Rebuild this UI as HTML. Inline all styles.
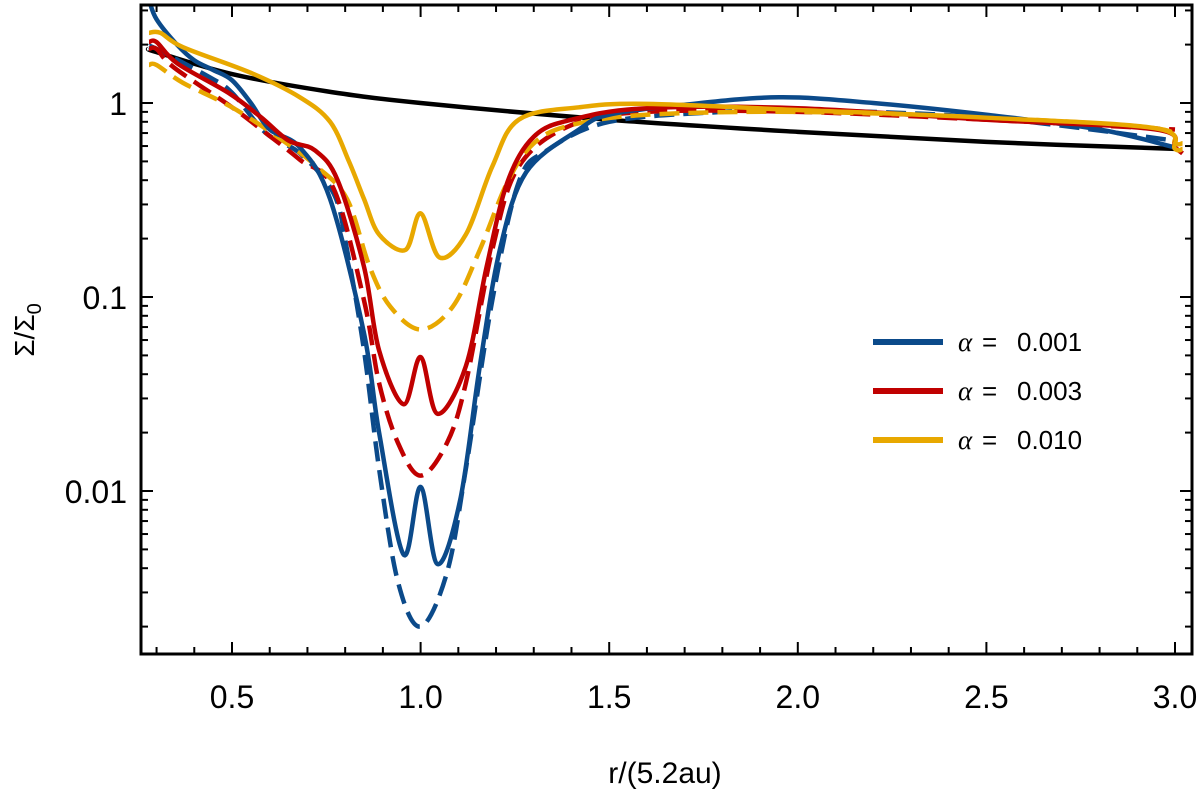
<!DOCTYPE html>
<html><head><meta charset="utf-8"><style>
body{margin:0;background:#fff;}
svg{display:block;font-family:"Liberation Sans",Arial,sans-serif;}
</style></head><body>
<svg id="chart" width="1200" height="794" viewBox="0 0 1200 794" xmlns="http://www.w3.org/2000/svg"></svg>
<script>
const xTicks=[0.5,1.0,1.5,2.0,2.5,3.0];
const xTickLabels=["0.5","1.0","1.5","2.0","2.5","3.0"];
const yTicks=[1,0.1,0.01];
const yTickLabels=["1","0.1","0.01"];
const blackR=[0.28,0.3,0.5,0.75,1,1.5,2,2.5,3];
const blackS=[1.9,1.83,1.41,1.15,1.0,0.82,0.71,0.63,0.58];
const blueR=[0.28,0.3,0.355,0.4,0.45,0.5,0.55,0.6,0.68,0.76,0.85,0.89,0.955,1.0,1.045,1.105,1.157,1.21,1.28,1.42,1.5,1.7,1.95,2.2,2.5,2.8,3.0];
const blueS=[3.4,2.7,1.99,1.66,1.48,1.31,1.0,0.73,0.59,0.32,0.065,0.02,0.0047,0.0105,0.0042,0.009,0.044,0.175,0.44,0.73,0.87,0.98,1.07,1.0,0.87,0.73,0.59];
const blueDR=[0.28,0.3,0.44,0.5,0.59,0.68,0.77,0.805,0.85,0.89,0.94,1.0,1.07,1.12,1.19,1.26,1.335,1.5,1.8,2.0,2.5,3.0];
const blueDS=[1.95,1.9,1.36,1.13,0.7,0.55,0.34,0.175,0.053,0.013,0.0034,0.002,0.0038,0.013,0.096,0.39,0.57,0.8,0.9,0.92,0.84,0.64];
const redR=[0.28,0.3,0.355,0.49,0.575,0.65,0.72,0.78,0.85,0.89,0.955,1.0,1.045,1.12,1.175,1.23,1.3,1.4,1.6,2.0,2.5,2.95,3.0,3.02];
const redS=[2.06,2.06,1.6,1.13,0.85,0.64,0.57,0.4,0.143,0.053,0.028,0.049,0.025,0.044,0.143,0.39,0.67,0.82,0.94,0.94,0.82,0.73,0.59,0.55];
const redDR=[0.28,0.3,0.345,0.5,0.59,0.68,0.77,0.85,0.89,0.94,1.0,1.07,1.12,1.19,1.26,1.4,1.6,2.0,2.5,3.0];
const redDS=[1.9,1.9,1.53,0.95,0.7,0.51,0.36,0.096,0.036,0.0177,0.012,0.0177,0.036,0.175,0.47,0.77,0.9,0.9,0.82,0.73];
const yelR=[0.28,0.31,0.37,0.55,0.68,0.76,0.81,0.85,0.89,0.96,1.0,1.05,1.12,1.19,1.26,1.42,1.6,2.0,2.5,2.95,3.0,3.02];
const yelS=[2.3,2.3,1.94,1.43,1.07,0.8,0.5,0.32,0.21,0.175,0.27,0.16,0.21,0.47,0.82,0.95,0.99,0.92,0.84,0.74,0.58,0.58];
const yelDR=[0.28,0.3,0.37,0.5,0.635,0.725,0.805,0.865,0.92,1.0,1.085,1.157,1.23,1.3,1.4,1.6,2.0,2.5,2.95,3.0,3.02];
const yelDS=[1.57,1.57,1.27,0.95,0.64,0.47,0.32,0.143,0.089,0.068,0.089,0.175,0.39,0.62,0.77,0.87,0.9,0.84,0.74,0.62,0.62];
const legendLabels=["0.001","0.003","0.010"];
const legendColors=["#0b4a8a","#c00000","#e8a800"];

const NS="http://www.w3.org/2000/svg";
const svg=document.getElementById('chart');
const L=141,R=1192,T=5,B=654;
const xS=r=>232+(r-0.5)*377.2;
const yS=s=>103-Math.log10(s)*194;
function el(tag,attrs,parent){const e=document.createElementNS(NS,tag);for(const k in attrs)e.setAttribute(k,attrs[k]);(parent||svg).appendChild(e);return e;}
const defs=el('defs',{});
const cp=el('clipPath',{id:'cp'},defs);
el('rect',{x:L,y:T,width:R-L,height:B-T},cp);
function path(rs,ss,color,dash,name){
  const pts=rs.map((r,i)=>[xS(r),yS(ss[i])]);
  let d='M'+pts[0][0]+','+pts[0][1];
  for(let i=0;i<pts.length-1;i++){
    const p0=pts[i-1]||pts[i],p1=pts[i],p2=pts[i+1],p3=pts[i+2]||p2;
    const c1=[p1[0]+(p2[0]-p0[0])/6,p1[1]+(p2[1]-p0[1])/6];
    const c2=[p2[0]-(p3[0]-p1[0])/6,p2[1]-(p3[1]-p1[1])/6];
    d+=`C${c1[0]},${c1[1]} ${c2[0]},${c2[1]} ${p2[0]},${p2[1]}`;
  }
  const p=el('path',{d:d,fill:'none',stroke:color,'stroke-width':4.5,'clip-path':'url(#cp)'});
  if(dash)p.setAttribute('stroke-dasharray','20,9');
  
  
}
path(blackR,blackS,'#000',false,'initial-profile-line');
path(blueDR,blueDS,legendColors[0],true,'alpha-0001-dashed-line');
path(redDR,redDS,legendColors[1],true,'alpha-0003-dashed-line');
path(yelDR,yelDS,legendColors[2],true,'alpha-0010-dashed-line');
path(blueR,blueS,legendColors[0],false,'alpha-0001-line');
path(redR,redS,legendColors[1],false,'alpha-0003-line');
path(yelR,yelS,legendColors[2],false,'alpha-0010-line');

const fr=el('rect',{x:L,y:T,width:R-L,height:B-T,fill:'none',stroke:'#000','stroke-width':3});


for(let k=3;k<=30;k++){
  const r=k/10,x=xS(r),major=(k%5===0),len=major?12:7;
  el('line',{x1:x,y1:B,x2:x,y2:B-len,stroke:'#000','stroke-width':2});
  el('line',{x1:x,y1:T,x2:x,y2:T+len,stroke:'#000','stroke-width':2});
}
xTicks.forEach((v,i)=>{
  const t=el('text',{x:xS(v),y:708,'font-size':32,'text-anchor':'middle'});
  t.textContent=xTickLabels[i];
  
  
});
for(let e=-3;e<=0;e++){
  for(let m=1;m<10;m++){
    const v=m*Math.pow(10,e),y=yS(v);
    if(y<T||y>B)continue;
    const len=m===1?12:7;
    el('line',{x1:L,y1:y,x2:L+len,y2:y,stroke:'#000','stroke-width':2});
    el('line',{x1:R,y1:y,x2:R-len,y2:y,stroke:'#000','stroke-width':2});
  }
}
yTicks.forEach((v,i)=>{
  const t=el('text',{x:127,y:yS(v)+12,'font-size':32,'text-anchor':'end'});
  t.textContent=yTickLabels[i];
  
  
});
const xt=el('text',{x:665,y:783,'font-size':30,'text-anchor':'middle'});
xt.textContent='r/(5.2au)';


const yt=el('text',{x:0,y:0,'font-size':28,'text-anchor':'middle',transform:'translate(34,330) rotate(-90)'});
yt.innerHTML='Σ/Σ<tspan font-size="20" dy="7">0</tspan>';


legendLabels.forEach((lab,i)=>{
  const y=342+i*49;
  const g=el('g',{});
  
  
  el('line',{x1:873,y1:y,x2:943,y2:y,stroke:legendColors[i],'stroke-width':6},g);
  const a=el('text',{x:958,y:y+9,'font-size':27,'font-family':'Liberation Serif,serif','font-style':'italic'},g);
  a.textContent='α';
  const eq=el('text',{x:982,y:y+9,'font-size':26},g);
  eq.textContent='=';
  const t=el('text',{x:1017,y:y+9,'font-size':26},g);
  t.textContent=lab;
});
</script>
</body></html>
